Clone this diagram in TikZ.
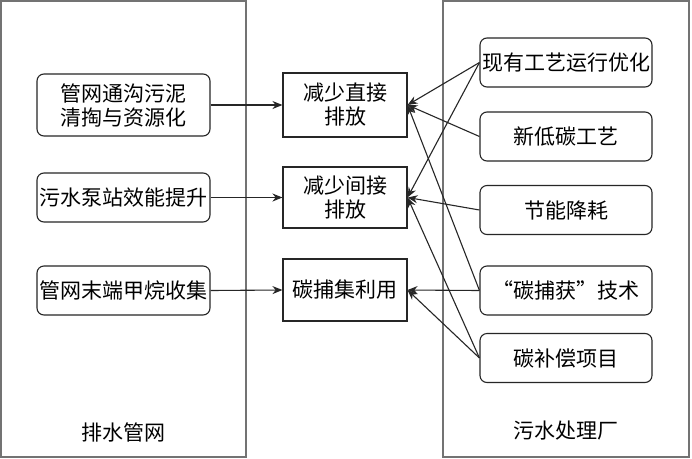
\documentclass[tikz,border=0pt]{standalone}
\usepackage{fontspec}
\setmainfont{Noto Sans CJK SC}
\usetikzlibrary{arrows.meta}
\begin{document}
\begin{tikzpicture}[x=1pt,y=-1pt,
  txt/.style={font=\fontsize{21}{24}\selectfont, text=black},
  rbox/.style={txt, draw=black!85, line width=1.1pt, rounded corners=7pt,
    minimum width=173pt, minimum height=49pt, inner sep=0pt, align=center},
  mbox/.style={txt, draw=black!85, line width=1.1pt,
    minimum width=124pt, minimum height=62pt, inner sep=0pt, align=center},
  frame/.style={draw=black!55, line width=1.3pt},
  arr/.style={draw=black!85, line width=1.1pt, -{Stealth[length=10pt,width=8pt]}}
]
\useasboundingbox (0,0) rectangle (692,458);
\fill[white] (0,0) rectangle (692,458);
% containers
\draw[frame] (1,1) rectangle (246,457);
\draw[frame] (443,1) rectangle (689,457);
\node[txt] (lblL) at (123,432) {排水管网};
\node[txt] (lblR) at (566,431) {污水处理厂};
% left boxes
\node[rbox, minimum height=62pt] (l1) at (123.5,105) {管网通沟污泥\\清掏与资源化};
\node[rbox] (l2) at (123.5,197.5) {污水泵站效能提升};
\node[rbox] (l3) at (123.5,290.5) {管网末端甲烷收集};
% middle boxes
\node[mbox, minimum height=64pt] (m1) at (345,105) {减少直接\\排放};
\node[mbox, minimum height=61pt] (m2) at (345,197.5) {减少间接\\排放};
\node[mbox] (m3) at (345,290) {碳捕集利用};
% right boxes
\node[rbox, minimum width=172pt] (r1) at (566,62.5) {现有工艺运行优化};
\node[rbox, minimum width=172pt] (r2) at (566,136.5) {新低碳工艺};
\node[rbox, minimum width=172pt] (r3) at (566,210) {节能降耗};
\node[rbox, minimum width=172pt] (r4) at (566,290.5) {“碳捕获”技术};
\node[rbox, minimum width=172pt] (r5) at (566,358) {碳补偿项目};
% left to middle
\draw[arr] (l1.east) -- (m1.west);
\draw[arr] (l2.east) -- (m2.west);
\draw[arr] (l3.east) -- (m3.west);
% right to middle
\draw[arr] (r1.west) -- (m1.east);
\draw[arr] (r1.west) -- (m2.east);
\draw[arr] (r2.west) -- (m1.east);
\draw[arr] (r3.west) -- (m2.east);
\draw[arr] (r4.west) -- (m1.east);
\draw[arr] (r4.west) -- (m3.east);
\draw[arr] (r5.west) -- (m2.east);
\draw[arr] (r5.west) -- (m3.east);
\end{tikzpicture}
\end{document}
